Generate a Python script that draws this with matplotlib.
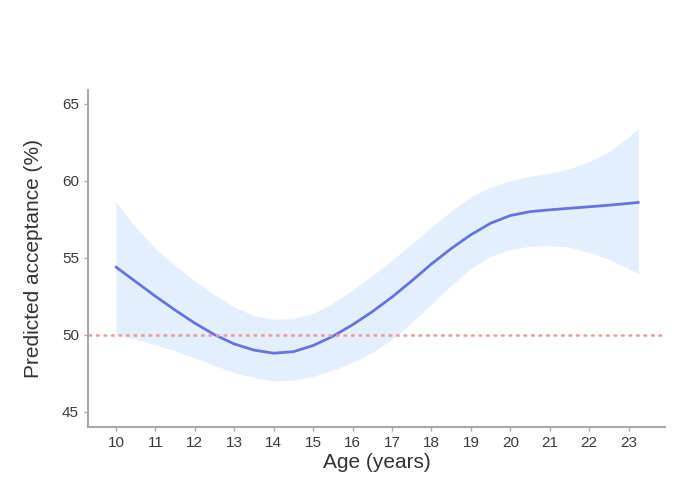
import numpy as np
import matplotlib.pyplot as plt

# valores
age = [10, 10.5, 11, 11.5, 12, 12.5, 13, 13.5, 14, 14.5, 15, 15.5, 16, 16.5,
       17, 17.5, 18, 18.5, 19, 19.5, 20, 20.5, 21, 21.5, 22, 22.5, 23, 23.25]
fit = [54.4, 53.45, 52.5, 51.6, 50.75, 50.0, 49.4, 49.0, 48.8, 48.9, 49.3, 49.9, 50.65, 51.5,
       52.45, 53.5, 54.6, 55.6, 56.5, 57.25, 57.75, 58.0, 58.12, 58.22, 58.32, 58.42, 58.54, 58.6]
upper = [58.6, 57.0, 55.6, 54.5, 53.5, 52.6, 51.8, 51.25, 51.0, 51.05, 51.4, 52.05, 52.9, 53.85,
         54.85, 55.9, 57.0, 58.05, 58.95, 59.6, 60.0, 60.3, 60.5, 60.8, 61.25, 61.9, 62.85, 63.4]
lower = [50.0, 49.7, 49.35, 48.95, 48.5, 48.0, 47.55, 47.2, 47.0, 47.05, 47.3, 47.7, 48.2, 48.85,
         49.7, 50.8, 52.0, 53.2, 54.3, 55.1, 55.55, 55.75, 55.8, 55.7, 55.35, 54.9, 54.3, 54.0]
ref_line = 50
xticks = list(range(10, 24))
yticks = [45, 50, 55, 60, 65]

plt.rcParams['font.family'] = ['Liberation Sans', 'DejaVu Sans']

fig = plt.figure(figsize=(6.93, 4.82), dpi=100)
ax = fig.add_axes([0.127, 0.114, 0.833, 0.699])

ax.fill_between(age, lower, upper, color='#e4effd', linewidth=0)
ax.plot(age, fit, color='#6573e0', linewidth=2, solid_capstyle='round', solid_joinstyle='round')
ax.axhline(ref_line, color='#ec9a9e', linestyle=(0, (1.5, 1.5)), linewidth=1.8)

ax.set_xlim(9.29, 23.93)
ax.set_ylim(44.0, 65.9)
ax.set_xticks(xticks)
ax.set_yticks(yticks)

for side in ['top', 'right']:
    ax.spines[side].set_visible(False)
for side in ['left', 'bottom']:
    ax.spines[side].set_color('#a8a8a8')
    ax.spines[side].set_linewidth(1.5)
ax.tick_params(colors='#a8a8a8', length=3, width=1, labelcolor='#3a3a3a', labelsize=11)

ax.set_xlabel('Age (years)', fontsize=15, color='#333333', labelpad=2)
ax.set_ylabel('Predicted acceptance (%)', fontsize=15, color='#333333', labelpad=14)

fig.savefig('out.png', dpi=100)
